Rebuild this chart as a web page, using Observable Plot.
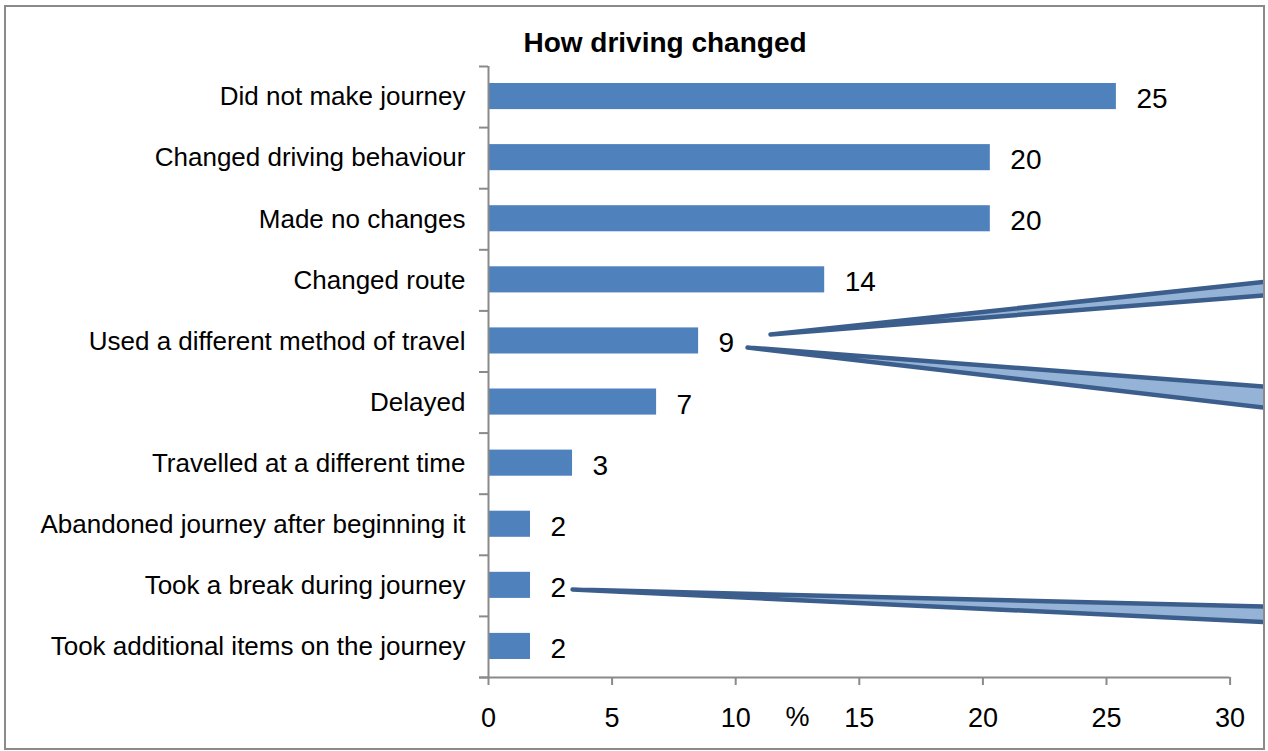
<!DOCTYPE html>
<html>
<head>
<meta charset="utf-8">
<script src="https://cdn.jsdelivr.net/npm/d3@7"></script>
<script src="https://cdn.jsdelivr.net/npm/@observablehq/plot@0.6"></script>
<style>
  html, body { margin: 0; padding: 0; background: #fff; }
  body { width: 1268px; height: 751px; position: relative; overflow: hidden; font-family: "Liberation Sans", Arial, sans-serif; }
  #frame { position: absolute; left: 4px; top: 5px; width: 1257px; height: 741px; border: 2px solid #8a8a8a; overflow: hidden; }
  #chart { position: absolute; left: -6px; top: -7px; width: 1268px; height: 751px; }
  #chart svg { max-width: none !important; width: 1268px; height: 751px; }
  #title { position: absolute; left: 365px; width: 600px; top: 29px; line-height: 28px; text-align: center; font-size: 28px; font-weight: bold; color: #000; }
</style>
</head>
<body>
<div id="frame"><div id="chart"></div></div>
<div id="title">How driving changed</div>
<script>
// Categories (top to bottom)
const categories = [
  "Did not make journey",
  "Changed driving behaviour",
  "Made no changes",
  "Changed route",
  "Used a different method of travel",
  "Delayed",
  "Travelled at a different time",
  "Abandoned journey after beginning it",
  "Took a break during journey",
  "Took additional items on the journey"
];
// Bar lengths (%) as drawn
const values = [25.4, 20.3, 20.3, 13.6, 8.5, 6.8, 3.4, 1.7, 1.7, 1.7];
// Printed data labels
const valueLabels = ["25", "20", "20", "14", "9", "7", "3", "2", "2", "2"];
// X axis ticks and unit label
const xTicks = [0, 5, 10, 15, 20, 25, 30];
const xUnit = "%";

// Callout wedges (x in %, row position in category units from top)
const calloutTipX = [11.41, 10.48, 3.40];
const calloutTipRow = [4.386, 4.599, 8.560];
const calloutEndX = [33, 33, 33];
const calloutEndRowTop = [3.457, 5.288, 8.854];
const calloutEndRowBottom = [3.696, 5.658, 9.123];

const rows = categories.map((c, i) => ({category: c, row: i, value: values[i], label: valueLabels[i]}));
const callouts = calloutTipX.flatMap((tx, k) => [
  {id: k, x: tx, y: calloutTipRow[k]},
  {id: k, x: calloutEndX[k], y: calloutEndRowTop[k]},
  {id: k, x: calloutEndX[k], y: calloutEndRowBottom[k]},
  {id: k, x: tx, y: calloutTipRow[k]}
]);

const gray = "#8a8a8a";
const n = categories.length;

const chart = Plot.plot({
  width: 1268,
  height: 751,
  marginLeft: 488,
  marginRight: 38.4,
  marginTop: 66,
  marginBottom: 74,
  x: {domain: [0, 30]},
  y: {domain: [0, n], reverse: true},
  style: {fontFamily: "'Liberation Sans', Arial, sans-serif", color: "#000", background: "transparent", overflow: "visible", maxWidth: "none"},
  marks: [
    Plot.rectX(rows, {x1: 0, x2: "value", y1: "row", y2: d => d.row + 1, insetTop: 17, insetBottom: 18, fill: "#4f81bd"}),
    Plot.ruleX([0], {stroke: gray, strokeWidth: 2}),
    Plot.ruleY([n], {stroke: gray, strokeWidth: 2, insetLeft: -9}),
    Plot.axisY({ticks: d3.range(n + 1), tickSize: 9, tickFormat: () => "", stroke: gray, strokeWidth: 2, label: null}),
    Plot.axisY({ticks: rows.map(d => d.row + 0.5), tickFormat: d => categories[Math.floor(d)], tickSize: 0, tickPadding: 23, fontSize: 26, label: null}),
    Plot.axisX({ticks: xTicks, tickSize: 8, tickPadding: 22, fontSize: 27, stroke: gray, strokeWidth: 2, label: null}),
    Plot.text([xUnit], {x: (xTicks[2] + xTicks[3]) / 2, frameAnchor: "bottom", text: d => d, lineAnchor: "middle", dy: 40, fontSize: 27, fill: "#000"}),
    Plot.text(rows, {x: "value", y: d => d.row + 0.5, text: "label", textAnchor: "start", dx: 20, dy: 2, fontSize: 28, fill: "#000"}),
    Plot.line(callouts, {x: "x", y: "y", z: "id", fill: "#95b3d7", stroke: "#3b5e8c", strokeWidth: 4.5, strokeLinejoin: "round", strokeLinecap: "round"})
  ]
});
document.getElementById("chart").appendChild(chart);
</script>
</body>
</html>
